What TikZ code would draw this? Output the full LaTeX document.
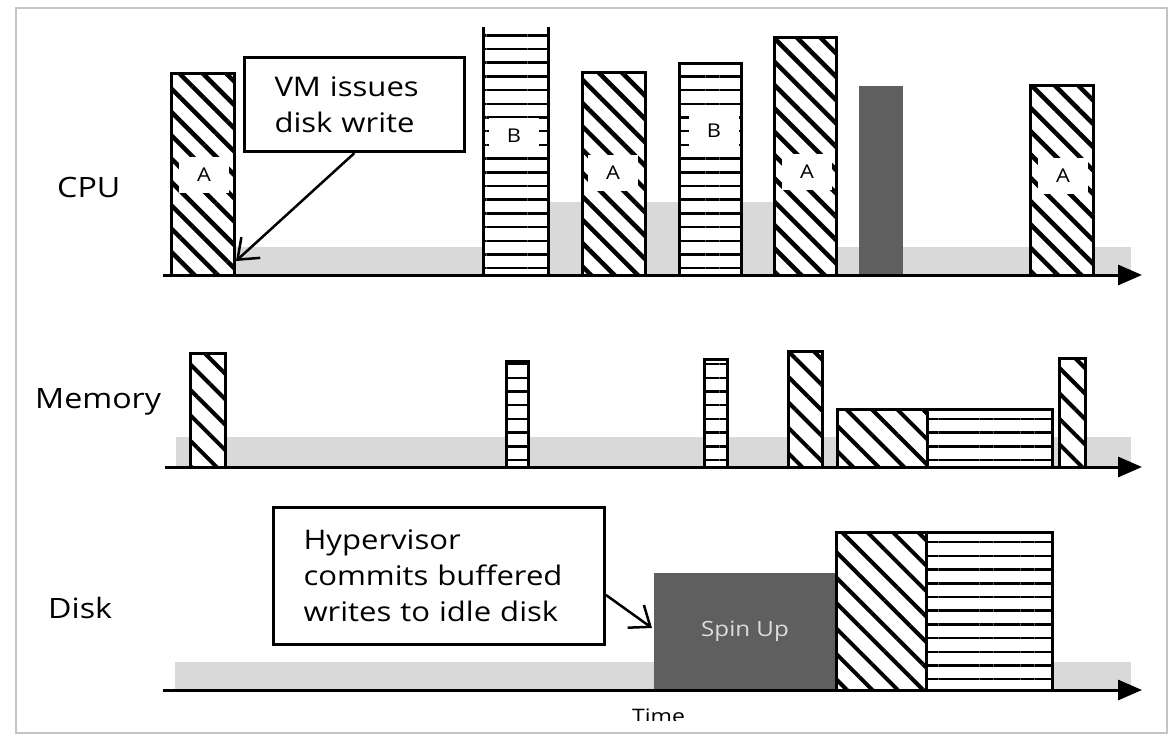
\documentclass[tikz,border=0pt]{standalone}
\usepackage{fontspec}
\setmainfont{Open Sans}[FakeStretch=1.15]
\usetikzlibrary{patterns.meta,arrows.meta,calc}
\definecolor{idle}{HTML}{D9D9D9}
\definecolor{busy}{HTML}{5F5F5F}
\definecolor{framegray}{HTML}{C4C4C4}
\definecolor{spintext}{HTML}{DCDCDC}
\begin{document}
\begin{tikzpicture}[x=1pt,y=-1pt,
  bar/.style={draw=black, line width=3pt, preaction={fill=white},
    inner sep=0pt, outer sep=0pt, anchor=south west},
  diagcpu/.style={bar, pattern={Lines[angle=-45,distance=16.5pt,line width=4.5pt]}},
  diagmem/.style={bar, pattern={Lines[angle=-45,distance=18pt,line width=4pt]}},
  horiz/.style={bar, pattern={Lines[angle=0,distance=13.7pt,line width=2.5pt]}},
  busybar/.style={fill=busy, draw=none, inner sep=0pt, outer sep=0pt, anchor=south west},
  idleband/.style={fill=idle, draw=none},
  axis/.style={line width=3pt, -{Triangle[length=24pt,width=20pt]}},
  callout/.style={draw=black, line width=3pt, fill=white, anchor=north west,
    inner xsep=30pt, inner ysep=0pt, align=left,
    font=\fontsize{27}{36}\selectfont},
  callarrow/.style={line width=2.5pt, -{Straight Barb[length=18pt,width=28pt,line width=2.5pt]}},
  rowlabel/.style={anchor=base west, inner sep=0pt, font=\fontsize{28}{32}\selectfont},
  tag/.style={fill=white, inner sep=0pt, minimum width=50pt, minimum height=36pt,
    font=\fontsize{19}{22}\selectfont}
]
\useasboundingbox (0,0) rectangle (1174,734);

% frame
\draw[framegray, line width=2pt] (16,8) rectangle (1167,733);

% row labels
\node[rowlabel] (lcpu) at (57,197) {CPU};
\node[rowlabel] (lmem) at (35,408) {Memory};
\node[rowlabel] (ldisk) at (48,618) {Disk};

% idle bands
\fill[idleband] (236,247) rectangle (1131,275);
\fill[idleband] (548,202) rectangle (774,275);
\fill[idleband] (176,437) rectangle (1131,467);
\fill[idleband] (175,662) rectangle (1131,690);

% CPU activity
\node[diagcpu, minimum width=63pt, minimum height=202pt] (cpuA1) at (171,275) {};
\node[horiz, draw=none, minimum width=65pt, minimum height=248pt] (cpuB1) at (483,275) {};
\draw[line width=3pt] (cpuB1.north west) -- (cpuB1.south west);
\draw[line width=3pt] (cpuB1.north east) -- (cpuB1.south east);
\node[diagcpu, minimum width=63pt, minimum height=203pt] (cpuA2) at (582,275) {};
\node[horiz, minimum width=62pt, minimum height=212pt] (cpuB2) at (679,275) {};
\node[diagcpu, minimum width=62pt, minimum height=238pt] (cpuA3) at (774,275) {};
\node[busybar, minimum width=44pt, minimum height=189pt] (cpuH) at (859,275) {};
\node[diagcpu, minimum width=63pt, minimum height=190pt] (cpuA4) at (1030,275) {};

% VM tags on the CPU bars
\node[tag] (tA1) at (204,175) {A};
\node[tag] (tB1) at (514,136) {B};
\node[tag] (tA2) at (613,173) {A};
\node[tag] (tB2) at (714,131) {B};
\node[tag] (tA3) at (807,172) {A};
\node[tag] (tA4) at (1063,176) {A};

% memory activity
\node[diagmem, minimum width=35pt, minimum height=114pt] (memA1) at (190,467) {};
\node[horiz, minimum width=22pt, minimum height=106pt] (memB1) at (506,467) {};
\node[horiz, minimum width=23pt, minimum height=108pt] (memB2) at (704,467) {};
\node[diagmem, minimum width=34pt, minimum height=116pt] (memA2) at (788,467) {};
\node[diagmem, minimum width=90pt, minimum height=58pt] (memA3) at (837,467) {};
\node[horiz, minimum width=125pt, minimum height=58pt] (memB3) at (927,467) {};
\node[diagmem, minimum width=26pt, minimum height=109pt] (memA4) at (1059,467) {};

% disk activity
\node[busybar, minimum width=182pt, minimum height=117pt, text=spintext,
  font=\fontsize{21}{24}\selectfont] (spin) at (654,690) {Spin Up};
\node[diagmem, minimum width=90pt, minimum height=158pt] (dskA) at (836,690) {};
\node[horiz, minimum width=126pt, minimum height=158pt] (dskB) at (926,690) {};

% time axes
\draw[axis] (163,275) -- (1142,275);
\draw[axis] (165,467) -- (1142,467);
\draw[axis] (163,690) -- (1142,690);

\begin{scope}
  \clip (0,0) rectangle (1174,720);
  \node[anchor=base west, inner sep=0pt, font=\fontsize{20}{24}\selectfont] (time) at (632,723) {Time};
\end{scope}

% callouts
\node[callout, text width=160pt, minimum height=94pt] (vm) at (243,56) {VM issues\\disk write};
\coordinate (vmtip) at (236,261);
\draw[callarrow] (vm.south) -- (vmtip);

\node[callout, text width=271pt, minimum height=137pt] (hv) at (272,506)
  {Hypervisor\\commits buffered\\writes to idle disk};
\coordinate (hvtip) at (652,628);
\draw[callarrow] ($(hv.east)+(0,19)$) -- (hvtip);
\end{tikzpicture}
\end{document}
